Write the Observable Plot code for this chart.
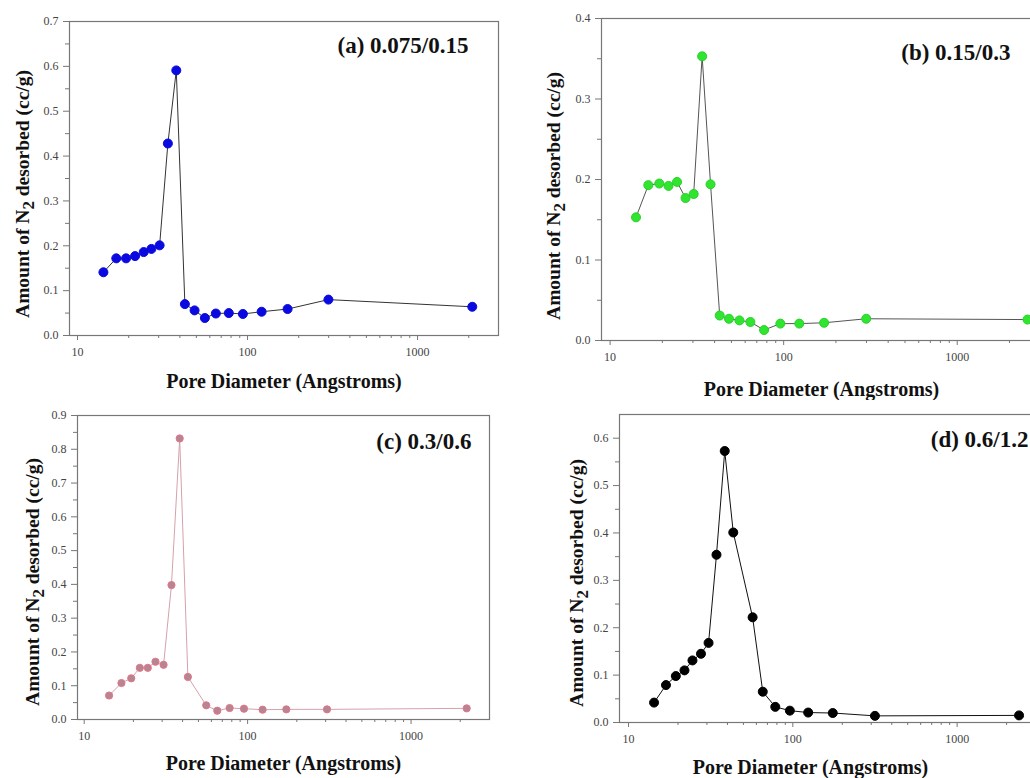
<!DOCTYPE html>
<html>
<head>
<meta charset="utf-8">
<script src="https://cdn.jsdelivr.net/npm/d3@7"></script>
<script src="https://cdn.jsdelivr.net/npm/@observablehq/plot@0.6"></script>
<style>
  html, body { margin: 0; padding: 0; background: #fff; overflow: hidden; }
  #wrap { position: relative; width: 1030px; height: 778px; overflow: hidden; }
  .panel { position: absolute; }
  .panel svg { max-width: none !important; display: block; }
</style>
</head>
<body>
<div id="wrap"></div>
<script>
// ---- data ----
const diamA = [14.2, 16.9, 19.3, 21.8, 24.5, 27.2, 30.4, 34.0, 38.1, 42.8, 48.8, 56.1, 65.1, 77.6, 93.9, 121, 172, 299, 2098];
const amtA  = [0.141, 0.172, 0.172, 0.177, 0.186, 0.193, 0.201, 0.428, 0.591, 0.070, 0.056, 0.039, 0.049, 0.050, 0.048, 0.053, 0.059, 0.080, 0.064];

const diamB = [14.1, 16.6, 19.2, 21.7, 24.3, 27.2, 30.3, 33.9, 37.9, 42.8, 48.4, 55.6, 64.3, 77.1, 95.7, 123, 171, 299, 2540];
const amtB  = [0.153, 0.193, 0.195, 0.192, 0.197, 0.177, 0.182, 0.353, 0.194, 0.031, 0.027, 0.025, 0.023, 0.013, 0.021, 0.021, 0.022, 0.027, 0.026];

const diamC = [14.2, 16.9, 19.4, 21.9, 24.5, 27.3, 30.6, 34.2, 38.4, 43.1, 55.8, 65.2, 77.6, 95, 123.5, 172.5, 306, 2190];
const amtC  = [0.071, 0.108, 0.122, 0.153, 0.153, 0.171, 0.162, 0.398, 0.832, 0.126, 0.042, 0.026, 0.034, 0.032, 0.029, 0.030, 0.030, 0.033];

const diamD = [14.3, 16.9, 19.4, 21.9, 24.5, 27.6, 30.7, 34.3, 38.5, 43.4, 56.9, 65.6, 78.2, 95.9, 124, 175, 316, 2382];
const amtD  = [0.042, 0.079, 0.098, 0.110, 0.131, 0.145, 0.168, 0.354, 0.573, 0.401, 0.222, 0.065, 0.033, 0.025, 0.021, 0.020, 0.014, 0.015];

const titles = ["(a) 0.075/0.15", "(b) 0.15/0.3", "(c) 0.3/0.6", "(d) 0.6/1.2"];
const xLabel = "Pore Diameter (Angstroms)";
const yLabelParts = ["Amount of N", "2", " desorbed (cc/g)"];

const xMajorTicks = [10, 100, 1000];
const xMinorTicks = [20, 30, 40, 50, 60, 70, 80, 90, 200, 300, 400, 500, 600, 700, 800, 900, 2000];

const yTicksA = [0, 0.1, 0.2, 0.3, 0.4, 0.5, 0.6, 0.7];
const yMinorA = [0.05, 0.15, 0.25, 0.35, 0.45, 0.55, 0.65];
const yTicksB = [0, 0.1, 0.2, 0.3, 0.4];
const yMinorB = [0.05, 0.15, 0.25, 0.35];
const yTicksC = [0, 0.1, 0.2, 0.3, 0.4, 0.5, 0.6, 0.7, 0.8, 0.9];
const yMinorC = [0.05, 0.15, 0.25, 0.35, 0.45, 0.55, 0.65, 0.75, 0.85];
const yTicksD = [0, 0.1, 0.2, 0.3, 0.4, 0.5, 0.6];
const yMinorD = [0.05, 0.15, 0.25, 0.35, 0.45, 0.55];

// ---- panel layout / style options ----
const panels = [
  {diam: diamA, amt: amtA, title: titles[0], yTicks: yTicksA, yMinor: yMinorA,
   left: 0, top: 0, width: 505, height: 395, ml: 69, mr: 7, mt: 21, mb: 60,
   xdom: [8.97, 2993], ydom: [0, 0.7],
   line: "#333", fill: "#0a0ae0", stroke: "#0a0ae0", r: 4.5,
   tdx: -30, tdy: 24, lx: 0, ldy: 46, ylx: 22, yly: 194},
  {diam: diamB, amt: amtB, title: titles[1], yTicks: yTicksB, yMinor: yMinorB,
   left: 520, top: 0, width: 520, height: 395, ml: 81, mr: 5, mt: 18, mb: 55,
   xdom: [8.92, 2825], ydom: [0, 0.4],
   line: "#555", fill: "#2fe52f", stroke: "#2ad02a", r: 4.5,
   tdx: -25, tdy: 34, lx: 3, ldy: 49, ylx: 33, yly: 196},
  {diam: diamC, amt: amtC, title: titles[2], yTicks: yTicksC, yMinor: yMinorC,
   left: 0, top: 400, width: 505, height: 378, ml: 77, mr: 16, mt: 15, mb: 59,
   xdom: [9.1, 3020], ydom: [0, 0.9],
   line: "#d4a2ab", fill: "#b58592", stroke: "#e8738a", r: 3.6,
   tdx: -18, tdy: 26, lx: 0, ldy: 44, ylx: 32, yly: 182},
  {diam: diamD, amt: amtD, title: titles[3], yTicks: yTicksD, yMinor: yMinorD,
   left: 520, top: 400, width: 520, height: 378, ml: 99, mr: 5, mt: 14, mb: 56,
   xdom: [8.81, 2999], ydom: [0, 0.65],
   line: "#111", fill: "#000", stroke: "#000", r: 4.5,
   tdx: -7, tdy: 25, lx: -17, ldy: 45, ylx: 56, yly: 183}
];

const serif = "Liberation Serif";
const wrap = document.getElementById("wrap");

for (const p of panels) {
  const data = p.diam.map((d, i) => ({d, v: p.amt[i]}));
  const svg = Plot.plot({
    width: p.width, height: p.height,
    marginLeft: p.ml, marginRight: p.mr, marginTop: p.mt, marginBottom: p.mb,
    style: {fontFamily: serif, fontSize: "12px", color: "#555", background: "#fff", overflow: "visible", maxWidth: "none"},
    x: {type: "log", domain: p.xdom, axis: null},
    y: {domain: p.ydom, axis: null},
    marks: [
      Plot.axisY(p.yMinor, {tickSize: 4, tickFormat: () => "", label: null, stroke: "#777"}),
      Plot.axisY(p.yTicks, {tickSize: 6, tickPadding: 5, tickFormat: d3.format(".1f"), label: null, stroke: "#777", fill: "#444", fontSize: 12, fontFamily: serif}),
      Plot.axisX(xMinorTicks, {tickSize: 3, tickFormat: () => "", label: null, stroke: "#777"}),
      Plot.axisX(xMajorTicks, {tickSize: 5, tickPadding: 7, tickFormat: d => String(d), label: null, stroke: "#777", fill: "#444", fontSize: 12, fontFamily: serif}),
      Plot.frame({stroke: "#777", strokeWidth: 1.2}),
      Plot.line(data, {x: "d", y: "v", stroke: p.line, strokeWidth: 1}),
      Plot.dot(data, {x: "d", y: "v", r: p.r, fill: p.fill, stroke: p.stroke, strokeWidth: 1}),
      Plot.text([p.title], {frameAnchor: "top-right", dx: p.tdx, dy: p.tdy, lineAnchor: "middle", textAnchor: "end",
        fontFamily: serif, fontWeight: "bold", fontSize: 23, fill: "#111"}),
      Plot.text([xLabel], {frameAnchor: "bottom", dx: p.lx, dy: p.ldy, lineAnchor: "middle",
        fontFamily: serif, fontWeight: "bold", fontSize: 20, fill: "#111"})
    ]
  });
  svg.querySelectorAll("text").forEach(el => el.style.fontFamily = serif);
  // y axis label with a real subscript
  const t = d3.select(svg).append("text")
    .attr("transform", `translate(${p.ylx},${p.yly}) rotate(-90)`)
    .attr("text-anchor", "middle")
    .attr("dy", "0.35em")
    .style("font-family", serif)
    .attr("font-weight", "bold")
    .attr("font-size", 19.5)
    .attr("fill", "#111");
  t.append("tspan").text(yLabelParts[0]);
  t.append("tspan").attr("dy", 5).attr("font-size", 17).text(yLabelParts[1]);
  t.append("tspan").attr("dy", -5).text(yLabelParts[2]);

  const div = document.createElement("div");
  div.className = "panel";
  div.style.left = p.left + "px";
  div.style.top = p.top + "px";
  div.style.width = p.width + "px";
  div.style.height = p.height + "px";
  div.appendChild(svg);
  wrap.appendChild(div);
}
</script>
</body>
</html>
